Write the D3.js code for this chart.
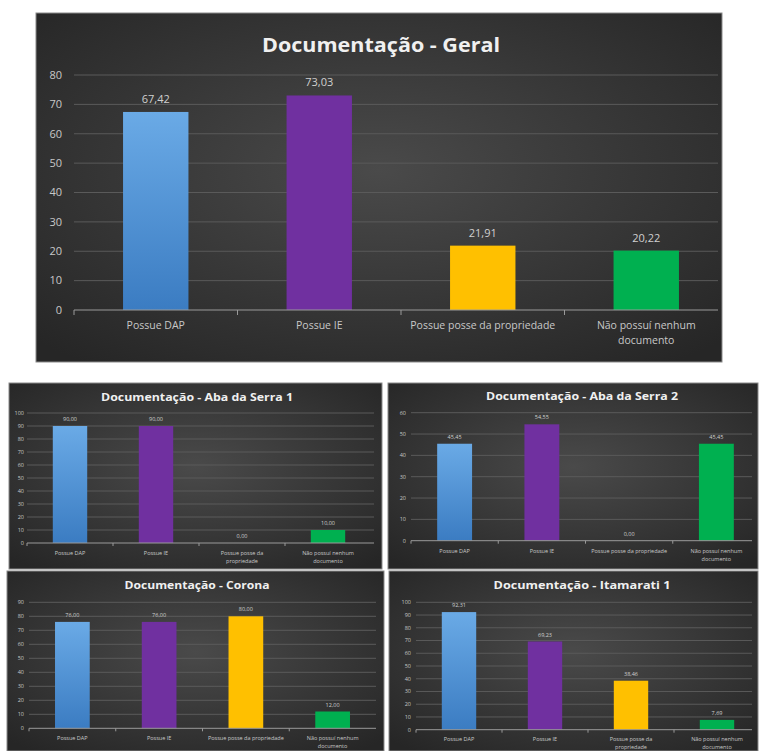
<!DOCTYPE html>
<html>
<head>
<meta charset="utf-8">
<script src="https://cdn.jsdelivr.net/npm/d3@7"></script>
<style>
  html, body { margin: 0; padding: 0; background: #ffffff; }
  svg { display: block; }
</style>
</head>
<body>
<svg id="chart" width="761" height="751"></svg>
<script>
// ---------- DATA ----------
const categories = ["Possue DAP", "Possue IE", "Possue posse da propriedade", "Não possuí nenhum documento"];
const geralValues = [67.42, 73.03, 21.91, 20.22];
const abaSerra1Values = [90.00, 90.00, 0.00, 10.00];
const abaSerra2Values = [45.45, 54.55, 0.00, 45.45];
const coronaValues = [76.00, 76.00, 80.00, 12.00];
const itamarati1Values = [92.31, 69.23, 38.46, 7.69];

const geralTicks = [0, 10, 20, 30, 40, 50, 60, 70, 80];
const abaSerra1Ticks = [0, 10, 20, 30, 40, 50, 60, 70, 80, 90, 100];
const abaSerra2Ticks = [0, 10, 20, 30, 40, 50, 60];
const coronaTicks = [0, 10, 20, 30, 40, 50, 60, 70, 80, 90];
const itamarati1Ticks = [0, 10, 20, 30, 40, 50, 60, 70, 80, 90, 100];

const titles = ["Documentação - Geral", "Documentação - Aba da Serra 1", "Documentação - Aba da Serra 2",
                "Documentação - Corona", "Documentação - Itamarati 1"];

const barColors = ["#5b9bd5", "#7030a0", "#ffc000", "#00b050"];

// ---------- DRAWING ----------
const svg = d3.select("#chart");
const defs = svg.append("defs");

const bgGrad = defs.append("radialGradient").attr("id", "bg").attr("cx", "50%").attr("cy", "45%").attr("r", "70%");
bgGrad.append("stop").attr("offset", "0%").attr("stop-color", "#4a4a4a");
bgGrad.append("stop").attr("offset", "100%").attr("stop-color", "#262626");

const blueGrad = defs.append("linearGradient").attr("id", "blueGrad").attr("x1", 0).attr("y1", 0).attr("x2", 0).attr("y2", 1);
blueGrad.append("stop").attr("offset", "0%").attr("stop-color", "#6aaae6");
blueGrad.append("stop").attr("offset", "100%").attr("stop-color", "#3b7cc2");

const fmt = v => v.toFixed(2).replace(".", ",");

function wrapLines(label, wrap) {
  if (!wrap) return [label];
  if (label === "Não possuí nenhum documento") return ["Não possuí nenhum", "documento"];
  if (label === "Possue posse da propriedade" && wrap === "all") return ["Possue posse da", "propriedade"];
  return [label];
}

function drawChart(cfg) {
  const g = svg.append("g");
  // panel
  g.append("rect")
    .attr("x", cfg.panel[0]).attr("y", cfg.panel[1])
    .attr("width", cfg.panel[2]).attr("height", cfg.panel[3])
    .attr("fill", "url(#bg)")
    .attr("stroke", "#8a8a8a").attr("stroke-width", 1);

  const clipId = "clip" + cfg.id;
  defs.append("clipPath").attr("id", clipId).append("rect")
    .attr("x", cfg.panel[0]).attr("y", cfg.panel[1])
    .attr("width", cfg.panel[2]).attr("height", cfg.panel[3]);
  const inner = g.append("g").attr("clip-path", `url(#${clipId})`);

  const x = d3.scaleBand().domain(categories).range(cfg.xRange).paddingInner(0.6).paddingOuter(0.3);
  const y = d3.scaleLinear().domain([0, d3.max(cfg.ticks)]).range(cfg.yRange);

  // gridlines
  inner.append("g").selectAll("line").data(cfg.ticks.filter(t => t !== 0)).join("line")
    .attr("x1", cfg.xRange[0]).attr("x2", cfg.panel[0] + cfg.panel[2] - cfg.gridRightPad)
    .attr("y1", d => y(d)).attr("y2", d => y(d))
    .attr("stroke", "#5a5a5a").attr("stroke-width", 1);

  // y tick labels
  g.append("g").selectAll("text").data(cfg.ticks).join("text")
    .attr("x", cfg.tickX).attr("y", d => y(d))
    .attr("dy", "0.35em")
    .attr("text-anchor", "end")
    .attr("font-family", "'Liberation Sans Narrow', 'Open Sans', sans-serif")
    .attr("font-size", cfg.tickSize)
    .attr("fill", "#c8c8c8")
    .text(d => d);

  // bars
  inner.append("g").selectAll("rect").data(cfg.values).join("rect")
    .attr("x", (d, i) => x(categories[i]))
    .attr("width", x.bandwidth())
    .attr("y", d => y(d))
    .attr("height", d => y(0) - y(d))
    .attr("fill", (d, i) => i === 0 ? "url(#blueGrad)" : barColors[i]);

  // axis baseline
  inner.append("line")
    .attr("x1", cfg.xRange[0]).attr("x2", cfg.panel[0] + cfg.panel[2] - cfg.gridRightPad)
    .attr("y1", y(0)).attr("y2", y(0))
    .attr("stroke", "#9a9a9a").attr("stroke-width", 1);
  // tick marks on axis between categories
  inner.append("g").selectAll("line").data(categories).join("line")
    .attr("x1", d => x(d) - x.step() * 0.3).attr("x2", d => x(d) - x.step() * 0.3)
    .attr("y1", y(0)).attr("y2", y(0) + cfg.tickLen)
    .attr("stroke", "#9a9a9a");

  // value labels
  g.append("g").selectAll("text").data(cfg.values).join("text")
    .attr("x", (d, i) => x(categories[i]) + x.bandwidth() / 2)
    .attr("y", d => y(d) - cfg.valueOffset)
    .attr("text-anchor", "middle")
    .attr("font-family", "'Liberation Sans Narrow', 'Open Sans', sans-serif")
    .attr("font-size", cfg.valueSize)
    .attr("fill", "#d0d0d0")
    .text(d => fmt(d));

  // category labels
  const cat = g.append("g").selectAll("text").data(categories).join("text")
    .attr("x", d => x(d) + x.bandwidth() / 2)
    .attr("y", cfg.catY)
    .attr("text-anchor", "middle")
    .attr("font-family", "'Liberation Sans Narrow', 'Open Sans', sans-serif")
    .attr("font-size", cfg.catSize)
    .attr("fill", "#c8c8c8");
  cat.each(function (d) {
    const lines = wrapLines(d, cfg.wrap);
    const t = d3.select(this);
    lines.forEach((ln, k) => {
      t.append("tspan").attr("x", x(d) + x.bandwidth() / 2).attr("dy", k === 0 ? 0 : cfg.catSize * 1.45).text(ln);
    });
  });

  // title
  g.append("text")
    .attr("x", cfg.titleX).attr("y", cfg.titleY)
    .attr("text-anchor", "middle")
    .attr("dy", "0.35em")
    .attr("font-family", "'Open Sans', 'DejaVu Sans', sans-serif")
    .attr("font-weight", "bold")
    .attr("font-size", cfg.titleSize)
    .attr("fill", "#f0f0f0")
    .attr("textLength", cfg.titleLen)
    .attr("lengthAdjust", "spacingAndGlyphs")
    .text(cfg.title);
}

drawChart({
  id: 0, panel: [36, 13, 686, 349], xRange: [74, 728], yRange: [310, 75],
  ticks: geralTicks, values: geralValues, title: titles[0],
  titleX: 381, titleY: 45, titleSize: 20, titleLen: 238,
  tickX: 62, tickSize: 11, valueSize: 11, valueOffset: 9, catY: 329, catSize: 10.5,
  wrap: "nenhum", tickLen: 5, gridRightPad: 4
});

drawChart({
  id: 1, panel: [9, 383, 373, 186], xRange: [27, 371], yRange: [543, 413],
  ticks: abaSerra1Ticks, values: abaSerra1Values, title: titles[1],
  titleX: 197, titleY: 397, titleSize: 10, titleLen: 192,
  tickX: 24, tickSize: 5.5, valueSize: 5.5, valueOffset: 5, catY: 555, catSize: 5.5,
  wrap: "all", tickLen: 3, gridRightPad: 8
});

drawChart({
  id: 2, panel: [388, 383, 370, 186], xRange: [411, 760], yRange: [540.7, 412.7],
  ticks: abaSerra2Ticks, values: abaSerra2Values, title: titles[2],
  titleX: 582, titleY: 396, titleSize: 10, titleLen: 192,
  tickX: 406, tickSize: 5.5, valueSize: 5.5, valueOffset: 5, catY: 553, catSize: 5.5,
  wrap: "nenhum", tickLen: 3, gridRightPad: 6
});

drawChart({
  id: 3, panel: [7, 571, 377, 180], xRange: [29, 376], yRange: [728.3, 602.3],
  ticks: coronaTicks, values: coronaValues, title: titles[3],
  titleX: 197, titleY: 585, titleSize: 10, titleLen: 145,
  tickX: 24, tickSize: 5.5, valueSize: 5.5, valueOffset: 5, catY: 740, catSize: 5.5,
  wrap: "nenhum", tickLen: 3, gridRightPad: 8
});

drawChart({
  id: 4, panel: [389, 571, 369, 180], xRange: [416, 760], yRange: [729.7, 602.3],
  ticks: itamarati1Ticks, values: itamarati1Values, title: titles[4],
  titleX: 582, titleY: 585, titleSize: 10, titleLen: 177,
  tickX: 411, tickSize: 5.5, valueSize: 5.5, valueOffset: 5, catY: 741, catSize: 5.5,
  wrap: "all", tickLen: 3, gridRightPad: 6
});
</script>
</body>
</html>
